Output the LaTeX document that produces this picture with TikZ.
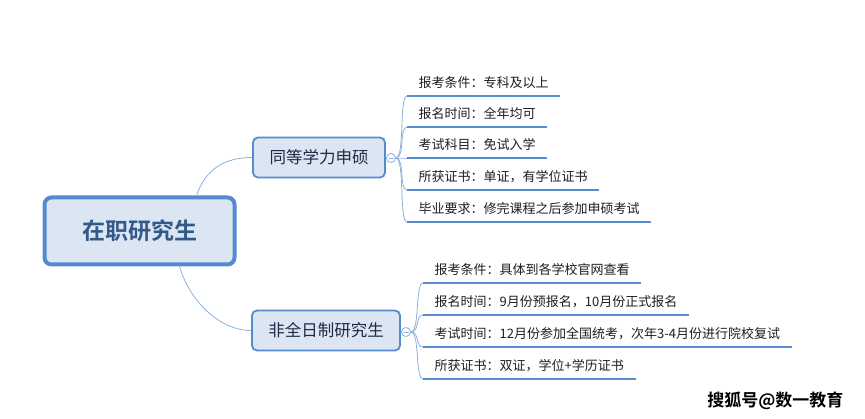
\documentclass[tikz,border=0pt]{standalone}
\usepackage{fontspec}
\setmainfont{Noto Sans CJK SC}
\newfontfamily\cjkbold{Noto Sans CJK SC Bold}
\begin{document}
\begin{tikzpicture}[x=1pt,y=-1pt]
\definecolor{bordblue}{RGB}{84,139,206}
\definecolor{fillblue}{RGB}{220,230,242}
\definecolor{rootText}{RGB}{49,89,138}
\definecolor{branchText}{RGB}{30,42,70}
\definecolor{lineblue}{RGB}{141,176,222}
\definecolor{ulblue}{RGB}{86,140,208}
\tikzset{
  rootbox/.style={draw=bordblue, line width=4pt, fill=fillblue, rounded corners=7pt,
    minimum width=190pt, minimum height=67pt, font=\cjkbold\fontsize{23}{26}\selectfont, text=rootText},
  branchbox/.style={draw=bordblue, line width=1.8pt, fill=fillblue, rounded corners=5pt,
    minimum height=40pt, inner xsep=10pt, font=\fontsize{16.5}{19}\selectfont, text=branchText},
  leafnode/.style={anchor=south west, inner xsep=11.5pt, inner ysep=5pt, text height=11pt, text depth=3pt,
    font=\fontsize{13}{15}\selectfont, text=black!88},
  underl/.style={draw=ulblue, line width=2.8pt},
  conn/.style={draw=lineblue, line width=0.8pt},
  foldc/.style={circle, draw=lineblue, fill=white, line width=0.8pt, minimum size=9pt, inner sep=0pt,
    path picture={\draw[lineblue, line width=0.8pt] ([xshift=-2.5pt]path picture bounding box.center) -- ([xshift=2.5pt]path picture bounding box.center);}},
}
\useasboundingbox (0,0) rectangle (865,419);
\fill[white] (0,0) rectangle (865,419);

% root
\node[rootbox] (root) at (139.5,231) {在职研究生};
% branches
\node[branchbox, minimum width=132pt] (b1) at (319,157.5) {同等学力申硕};
\node[branchbox, minimum width=148pt] (b2) at (326,330.5) {非全日制研究生};
\node[foldc] (c1) at (391,158) {};
\node[foldc] (c2) at (406,332) {};

\draw[conn] ([xshift=57pt]root.north) .. controls +(9,-26) and +(-28,0) .. (b1.west);
\draw[conn] ([xshift=40pt]root.south) .. controls +(10,34) and +(-32,0) .. (b2.west);
\draw[conn] (b1.east) -- (c1.west);
\draw[conn] (b2.east) -- (c2.west);

% leaves of branch 1
\node[leafnode] (l11) at (407,96) {报考条件：专科及以上};
\node[leafnode] (l12) at (407,127) {报名时间：全年均可};
\node[leafnode] (l13) at (407,158) {考试科目：免试入学};
\node[leafnode] (l14) at (407,190) {所获证书：单证，有学位证书};
\node[leafnode] (l15) at (407,222) {毕业要求：修完课程之后参加申硕考试};
\foreach \l in {l11,l12,l13,l14,l15}{
  \draw[conn] (c1.east) .. controls +(9,0) and +(-8,0) .. (\l.south west);
  \draw[underl] (\l.south west) -- (\l.south east);
}

% leaves of branch 2
\node[leafnode] (l21) at (423,283) {报考条件：具体到各学校官网查看};
\node[leafnode] (l22) at (423,315) {报名时间：9月份预报名，10月份正式报名};
\node[leafnode] (l23) at (423,347) {考试时间：12月份参加全国统考，次年3-4月份进行院校复试};
\node[leafnode] (l24) at (423,379) {所获证书：双证，学位+学历证书};
\foreach \l in {l21,l22,l23,l24}{
  \draw[conn] (c2.east) .. controls +(9,0) and +(-8,0) .. (\l.south west);
  \draw[underl] (\l.south west) -- (\l.south east);
}

% watermark
\node[font=\cjkbold\fontsize{17}{19}\selectfont, text=black, anchor=east] (wm) at (847,401) {搜狐号@数一教育};
\end{tikzpicture}
\end{document}
